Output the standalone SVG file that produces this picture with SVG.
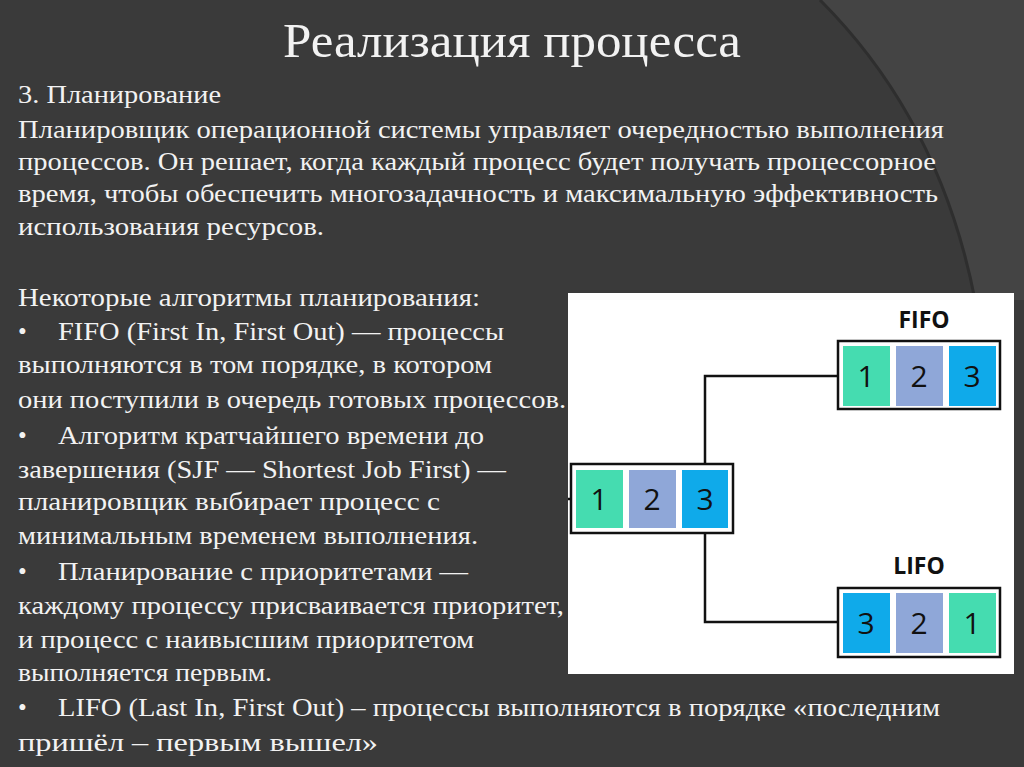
<svg xmlns="http://www.w3.org/2000/svg" width="1024" height="767" viewBox="0 0 1024 767">
<style>
.t{font-family:"Liberation Serif","DejaVu Serif",serif;font-size:25px;fill:#f2f2f2}
.ti{font-family:"Liberation Serif","DejaVu Serif",serif;font-size:48px;fill:#f2f2f2}
.d{font-family:"Open Sans","Liberation Sans",sans-serif;font-size:30px;fill:#111;text-anchor:middle}
.h{font-family:"Open Sans","Liberation Sans",sans-serif;font-size:23px;font-weight:bold;fill:#111;text-anchor:middle}
.box{fill:#fff;stroke:#111;stroke-width:2.5}
.g{fill:#45dcb0}.l{fill:#8fa7d8}.b{fill:#0faaea}
.c{fill:none;stroke:#111;stroke-width:2.5}
</style>
<rect width="1024" height="767" fill="#3a3a3a"/>
<path d="M820 0 Q940 120 975 300 L1024 300 L1024 0 Z" fill="#444"/>
<path d="M820 0 Q940 120 975 300" fill="none" stroke="#2e2e2e" stroke-width="3"/>
<text class="ti" x="283" y="57" textLength="458" lengthAdjust="spacingAndGlyphs">Реализация процесса</text>
<g class="t">
<text x="18" y="103" textLength="203" lengthAdjust="spacingAndGlyphs">3. Планирование</text>
<text x="18" y="138" textLength="926" lengthAdjust="spacingAndGlyphs">Планировщик операционной системы управляет очередностью выполнения</text>
<text x="18" y="170" textLength="918" lengthAdjust="spacingAndGlyphs">процессов. Он решает, когда каждый процесс будет получать процессорное</text>
<text x="18" y="202" textLength="920" lengthAdjust="spacingAndGlyphs">время, чтобы обеспечить многозадачность и максимальную эффективность</text>
<text x="18" y="235" textLength="306" lengthAdjust="spacingAndGlyphs">использования ресурсов.</text>
<text x="18" y="306" textLength="462" lengthAdjust="spacingAndGlyphs">Некоторые алгоритмы планирования:</text>
<text x="18" y="340">•</text><text x="58" y="340" textLength="446" lengthAdjust="spacingAndGlyphs">FIFO (First In, First Out) — процессы</text>
<text x="18" y="373" textLength="474" lengthAdjust="spacingAndGlyphs">выполняются в том порядке, в котором</text>
<text x="18" y="408" textLength="548" lengthAdjust="spacingAndGlyphs">они поступили в очередь готовых процессов.</text>
<text x="18" y="444">•</text><text x="58" y="444" textLength="426" lengthAdjust="spacingAndGlyphs">Алгоритм кратчайшего времени до</text>
<text x="18" y="478" textLength="488" lengthAdjust="spacingAndGlyphs">завершения (SJF — Shortest Job First) —</text>
<text x="18" y="510" textLength="422" lengthAdjust="spacingAndGlyphs">планировщик выбирает процесс с</text>
<text x="18" y="544" textLength="460" lengthAdjust="spacingAndGlyphs">минимальным временем выполнения.</text>
<text x="18" y="580">•</text><text x="58" y="580" textLength="410" lengthAdjust="spacingAndGlyphs">Планирование с приоритетами —</text>
<text x="18" y="614" textLength="546" lengthAdjust="spacingAndGlyphs">каждому процессу присваивается приоритет,</text>
<text x="18" y="648" textLength="456" lengthAdjust="spacingAndGlyphs">и процесс с наивысшим приоритетом</text>
<text x="18" y="681" textLength="254" lengthAdjust="spacingAndGlyphs">выполняется первым.</text>
<text x="18" y="716">•</text><text x="58" y="716" textLength="882" lengthAdjust="spacingAndGlyphs">LIFO (Last In, First Out) – процессы выполняются в порядке «последним</text>
<text x="18" y="751" textLength="360" lengthAdjust="spacingAndGlyphs">пришёл – первым вышел»</text>
</g>
<rect x="568" y="293" width="446" height="381" fill="#fff"/>
<g id="connectors">
<path class="c" d="M705 464 V376 H838"/>
<path class="c" d="M705 533 V622 H838"/>
<path class="c" d="M568 499 H571"/>
</g>
<g id="input">
<rect class="box" x="571" y="464" width="162" height="69"/>
<rect class="g" x="576" y="470" width="47" height="58"/><rect class="l" x="629" y="470" width="47" height="58"/><rect class="b" x="682" y="470" width="46" height="58"/>
<text class="d" x="599" y="510">1</text><text class="d" x="652" y="510">2</text><text class="d" x="705" y="510">3</text>
</g>
<g id="fifo">
<text class="h" x="924" y="328">FIFO</text>
<rect class="box" x="838" y="341" width="162" height="68"/>
<rect class="g" x="843" y="346" width="47" height="60"/><rect class="l" x="896" y="346" width="47" height="60"/><rect class="b" x="949" y="346" width="47" height="60"/>
<text class="d" x="866" y="387">1</text><text class="d" x="919" y="387">2</text><text class="d" x="972" y="387">3</text>
</g>
<g id="lifo">
<text class="h" x="919" y="574">LIFO</text>
<rect class="box" x="838" y="588" width="162" height="69"/>
<rect class="b" x="843" y="593" width="47" height="60"/><rect class="l" x="896" y="593" width="47" height="60"/><rect class="g" x="949" y="593" width="47" height="60"/>
<text class="d" x="866" y="634">3</text><text class="d" x="919" y="634">2</text><text class="d" x="972" y="634">1</text>
</g>
</svg>
